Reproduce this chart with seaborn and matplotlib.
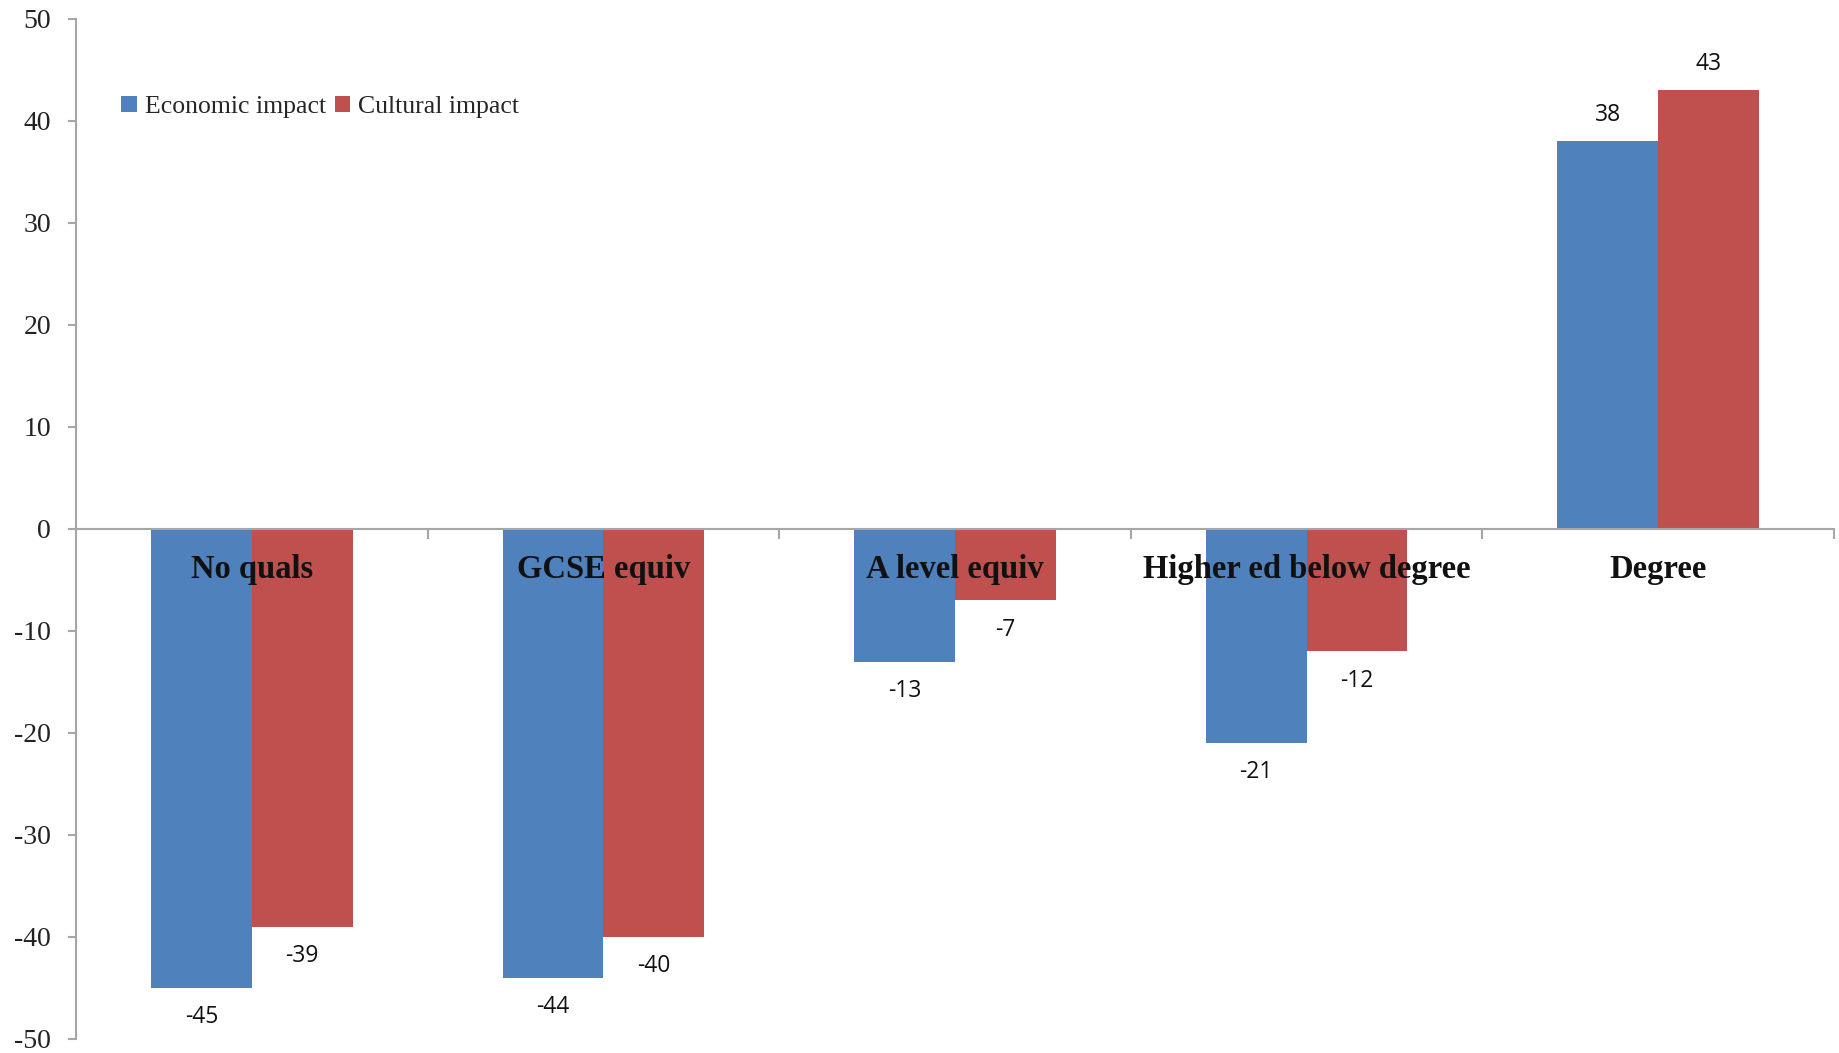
import matplotlib
matplotlib.use("Agg")
import matplotlib.pyplot as plt
import seaborn as sns
import pandas as pd
from matplotlib.ticker import FixedLocator

categories = ["No quals", "GCSE equiv", "A level equiv", "Higher ed below degree", "Degree"]
series_names = ["Economic impact", "Cultural impact"]
economic = [-45, -44, -13, -21, 38]
cultural = [-39, -40, -7, -12, 43]
y_ticks = [-50, -40, -30, -20, -10, 0, 10, 20, 30, 40, 50]

colors = ["#4F81BD", "#C0504D"]
axis_grey = "#A6A6A6"
serif = ["Liberation Serif", "DejaVu Serif"]
sans = ["Open Sans", "DejaVu Sans"]

df = pd.DataFrame({
    "category": categories * 2,
    "series": [series_names[0]] * len(categories) + [series_names[1]] * len(categories),
    "value": economic + cultural,
})

sns.set_theme(style="white")
plt.rcParams["font.family"] = serif

fig = plt.figure(figsize=(18.4, 10.53), dpi=100)
ax = fig.add_axes([0.0413, 0.0133, 0.9554, 0.9687])

sns.barplot(data=df, x="category", y="value", hue="series", order=categories,
            hue_order=series_names, palette=colors, width=0.573, gap=0,
            saturation=1, errorbar=None, ax=ax, linewidth=0)

ax.set_axisbelow(False)
ax.set_xlim(-0.5, len(categories) - 0.5)
ax.set_ylim(-50, 50)
ax.set_xlabel("")
ax.set_ylabel("")

# spines: left axis and the zero line carrying category boundaries
for s in ["top", "right"]:
    ax.spines[s].set_visible(False)
ax.spines["left"].set_color(axis_grey)
ax.spines["left"].set_linewidth(1.5)
ax.spines["bottom"].set_position(("data", 0))
ax.spines["bottom"].set_color(axis_grey)
ax.spines["bottom"].set_linewidth(1.5)

ax.tick_params(axis="y", direction="out", length=6, width=1.5, color=axis_grey, pad=12,
               left=True, labelsize=20, labelcolor="#222222", labelfontfamily="Liberation Serif")
ax.set_yticks(y_ticks)
ax.set_yticklabels([str(v) for v in y_ticks])

ax.xaxis.set_minor_locator(FixedLocator([i + 0.5 for i in range(len(categories))]))
ax.tick_params(axis="x", which="minor", direction="out", length=7, width=1.5, color=axis_grey, bottom=True)
ax.tick_params(axis="x", which="major", length=0, pad=18)
ax.set_xticks(range(len(categories)))
ax.set_xticklabels(categories, fontsize=23.5, fontweight="bold", color="#111111", fontfamily=serif)

# value labels
for container in ax.containers:
    for bar in container:
        h = bar.get_height()
        xc = bar.get_x() + bar.get_width() / 2
        off = 19 if h >= 0 else -21
        ax.annotate(f"{h:.0f}", (xc, h), xytext=(0, off), textcoords="offset points",
                    ha="center", va="center", fontsize=16.5, family=sans,
                    color="#111111")

handles, labels = ax.get_legend_handles_labels()
ax.legend(handles, labels, loc="upper left", bbox_to_anchor=(0.02, 0.935), ncol=2,
          frameon=False, prop={"family": serif, "size": 18.5}, handlelength=0.6,
          handleheight=0.6, handletextpad=0.3, columnspacing=0.35, borderaxespad=0)

fig.savefig("out.png", dpi=100, facecolor="white")
